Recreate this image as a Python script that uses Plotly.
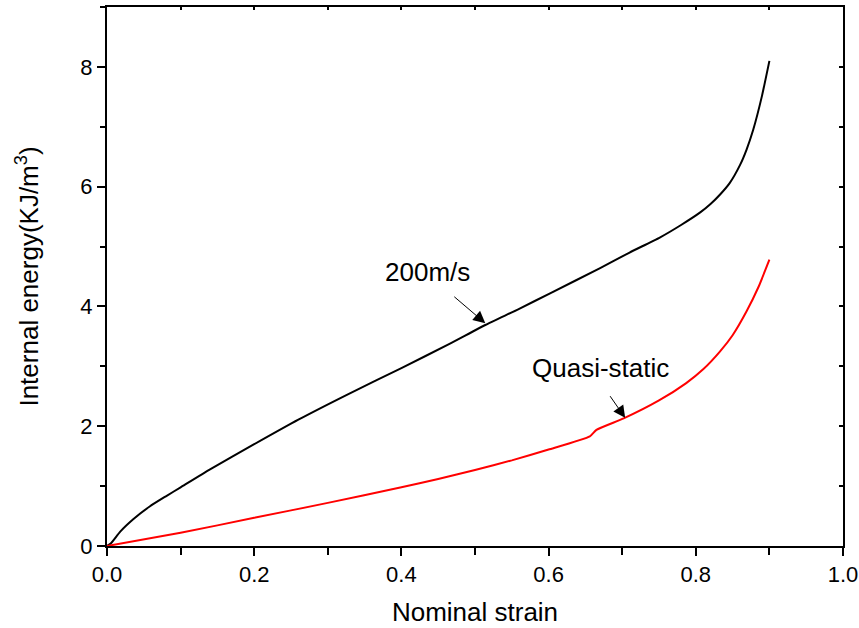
import plotly.graph_objects as go

# 200 m/s curve (nominal strain, internal energy)
strain_200 = [0.0, 0.005, 0.018, 0.036, 0.058, 0.08, 0.1, 0.14, 0.2, 0.26, 0.33, 0.4, 0.466,
              0.514, 0.56, 0.602, 0.67, 0.71, 0.751, 0.78, 0.806, 0.82, 0.833, 0.846, 0.86,
              0.869, 0.878, 0.89, 0.9]
energy_200 = [0.0, 0.04, 0.24, 0.45, 0.66, 0.83, 0.98, 1.28, 1.7, 2.11, 2.55, 2.97, 3.38,
              3.69, 3.96, 4.22, 4.64, 4.9, 5.15, 5.36, 5.57, 5.71, 5.87, 6.06, 6.36,
              6.62, 6.95, 7.52, 8.1]

# Quasi-static curve
strain_qs = [0.0, 0.1, 0.2, 0.3, 0.4, 0.45, 0.5, 0.55, 0.6, 0.656, 0.665, 0.702, 0.75, 0.787,
             0.81, 0.833, 0.85, 0.869, 0.885, 0.9]
energy_qs = [0.0, 0.22, 0.47, 0.72, 0.98, 1.12, 1.27, 1.43, 1.61, 1.83, 1.94, 2.13, 2.43, 2.72,
             2.95, 3.25, 3.52, 3.92, 4.32, 4.78]

x_ticks = [0.0, 0.2, 0.4, 0.6, 0.8, 1.0]
x_tick_labels = ["0.0", "0.2", "0.4", "0.6", "0.8", "1.0"]
y_ticks = [0, 2, 4, 6, 8]
y_tick_labels = ["0", "2", "4", "6", "8"]

FONT = "Liberation Sans, Arial, sans-serif"

fig = go.Figure()
fig.add_trace(go.Scatter(x=strain_200, y=energy_200, mode="lines",
                         line=dict(color="black", width=2, shape="spline", smoothing=0.5),
                         showlegend=False, hoverinfo="skip"))
fig.add_trace(go.Scatter(x=strain_qs, y=energy_qs, mode="lines",
                         line=dict(color="red", width=2, shape="spline", smoothing=0.5),
                         showlegend=False, hoverinfo="skip"))
# invisible trace to activate mirrored top/right axes
fig.add_trace(go.Scatter(x=strain_200, y=energy_200, mode="lines", xaxis="x2", yaxis="y2",
                         line=dict(color="rgba(0,0,0,0)", width=0),
                         showlegend=False, hoverinfo="skip"))

fig.update_layout(
    width=859, height=628,
    margin=dict(l=107, r=16, t=7, b=82, autoexpand=False),
    paper_bgcolor="white", plot_bgcolor="white",
    font=dict(family=FONT, color="black"),
    xaxis=dict(range=[0, 1.0], tickvals=x_ticks, ticktext=x_tick_labels,
               ticks="outside", ticklen=8, tickwidth=1.5, tickcolor="black",
               minor=dict(dtick=0.1, ticks="outside", ticklen=7, tickwidth=1.5, tickcolor="black"),
               showline=True, linewidth=2, linecolor="black", showgrid=False, zeroline=False,
               tickfont=dict(size=22, family=FONT), automargin=False,
               title=dict(text="Nominal strain", font=dict(size=26, family=FONT), standoff=16)),
    yaxis=dict(range=[0, 9], tickvals=y_ticks, ticktext=y_tick_labels,
               ticks="outside", ticklen=8, tickwidth=1.5, tickcolor="black",
               minor=dict(dtick=1, ticks="outside", ticklen=5, tickwidth=1.5, tickcolor="black"),
               showline=True, linewidth=2, linecolor="black", showgrid=False, zeroline=False,
               tickfont=dict(size=22, family=FONT), automargin=False,
               title=dict(text="Internal energy(KJ/m<sup>3</sup>)", font=dict(size=26, family=FONT),
                          standoff=34)),
    xaxis2=dict(range=[0, 1.0], overlaying="x", side="top", showticklabels=False,
                tickvals=[0.1 * i for i in range(11)], ticks="inside", ticklen=3, tickwidth=1.5,
                tickcolor="black", showline=True, linewidth=2, linecolor="black",
                showgrid=False, zeroline=False, automargin=False),
    yaxis2=dict(range=[0, 9], overlaying="y", side="right", showticklabels=False,
                tickvals=list(range(10)), ticks="inside", ticklen=4, tickwidth=1.5,
                tickcolor="black", showline=True, linewidth=2, linecolor="black",
                showgrid=False, zeroline=False, automargin=False),
)

# annotations
fig.add_annotation(x=0.436, y=4.58, xref="x", yref="y", text="200m/s", showarrow=False,
                   font=dict(size=26, family=FONT, color="black"))
fig.add_annotation(x=0.514, y=3.72, xref="x", yref="y", text=" ", showarrow=True,
                   ax=-34, ay=-29, arrowhead=2, arrowsize=2.4, arrowwidth=1, arrowcolor="black")
fig.add_annotation(x=0.67, y=2.97, xref="x", yref="y", text="Quasi-static", showarrow=False,
                   font=dict(size=26, family=FONT, color="black"))
fig.add_annotation(x=0.704, y=2.14, xref="x", yref="y", text=" ", showarrow=True,
                   ax=-18, ay=-26, arrowhead=2, arrowsize=2.4, arrowwidth=1, arrowcolor="black")

fig.write_html("out.html",
               config={"displayModeBar": False},
               post_script="document.body.style.margin='0';document.body.style.overflow='hidden';")
